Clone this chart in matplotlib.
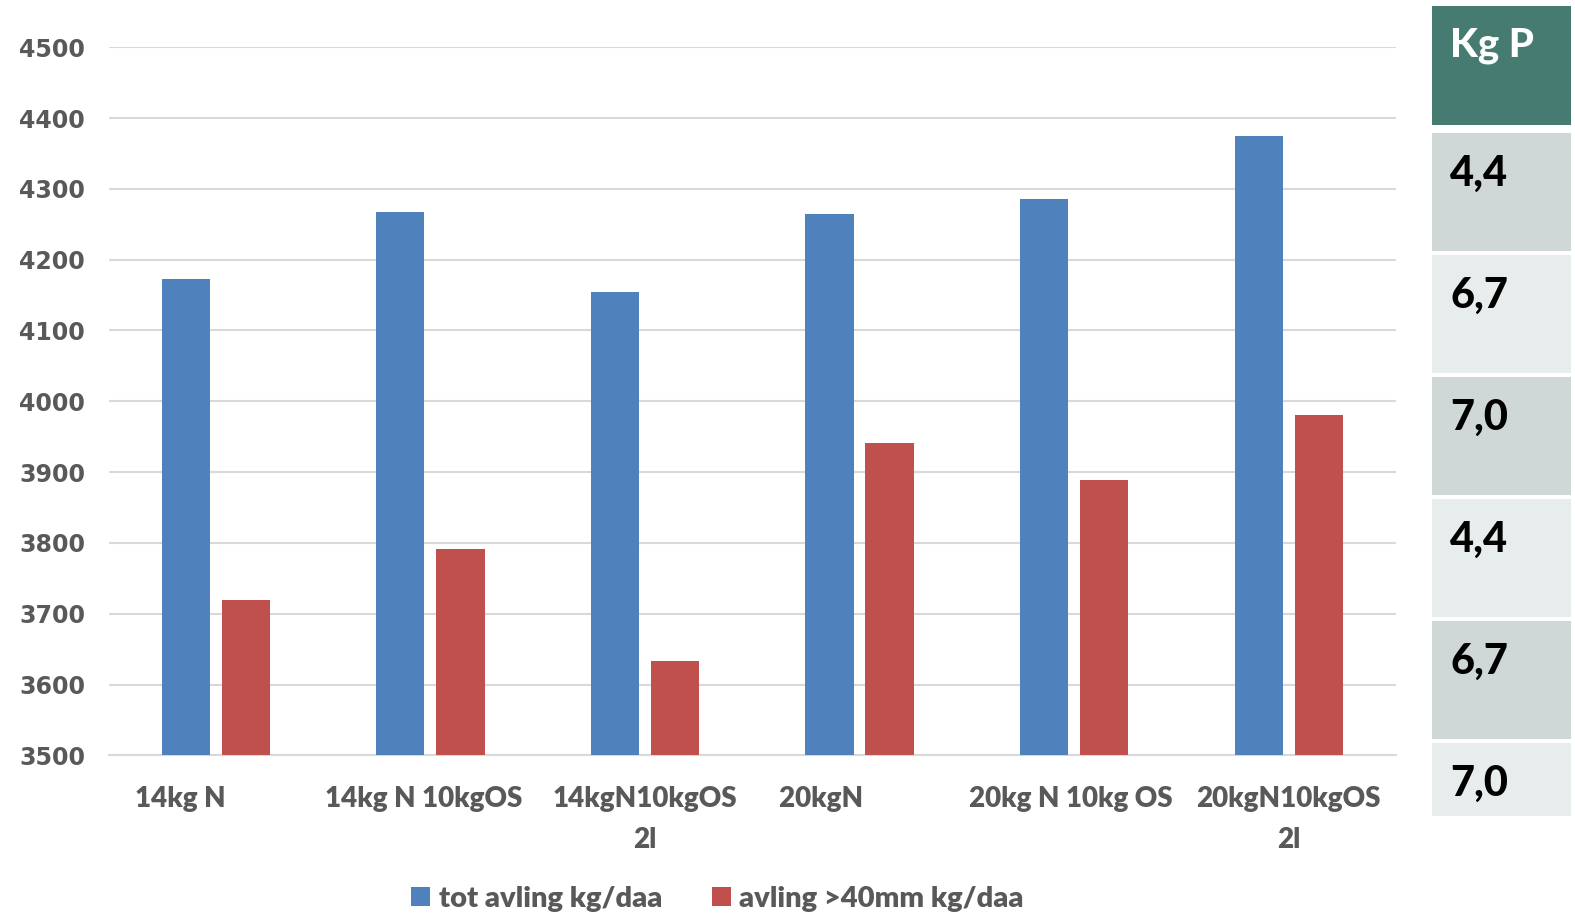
import matplotlib.pyplot as plt
import matplotlib as mpl
import numpy as np
from matplotlib.patches import Rectangle

mpl.rcParams.update({
    'font.family': ['Lato', 'DejaVu Sans'],
    'font.weight': 'bold',
})

kategorier = ['14kg N           ', '14kg N 10kgOS  ', '14kgN10kgOS\n2l', '20kgN            ',
              '20kg N 10kg OS ', '20kgN10kgOS\n2l']
tot_avling = [4172, 4267, 4155, 4265, 4286, 4374]
avling_40mm = [3720, 3791, 3633, 3941, 3889, 3981]
kg_p = ['4,4', '6,7', '7,0', '4,4', '6,7', '7,0']

blaa = '#4F81BD'
roed = '#C0504D'
tekst_farge = '#595959'

W, H = 1575, 916
fig = plt.figure(figsize=(W / 100, H / 100), dpi=100)

# hovedaksen for stolpene
venstre, hoeyre = 108.5 / W, 1396 / W
topp, bunn = 1 - 47.2 / H, 1 - 755.4 / H
ax = fig.add_axes([venstre, bunn, hoeyre - venstre, topp - bunn])

x = np.arange(len(kategorier))
bredde = 0.225
ax.bar(x - 0.14, tot_avling, bredde, color=blaa, label='tot avling kg/daa', zorder=3)
ax.bar(x + 0.14, avling_40mm, bredde, color=roed, label='avling >40mm kg/daa', zorder=3)

ax.set_xlim(-0.5, len(kategorier) - 0.5)
ax.set_ylim(3500, 4500)
ax.set_yticks(np.arange(3500, 4501, 100))
ax.grid(axis='y', color='#D9D9D9', linewidth=1.5, zorder=0)
for s in ['top', 'right', 'left']:
    ax.spines[s].set_visible(False)
ax.spines['bottom'].set_color('#D9D9D9')
ax.spines['bottom'].set_linewidth(1.5)
ax.tick_params(axis='both', length=0)
ax.tick_params(axis='y', pad=17)
ax.tick_params(axis='x', pad=22)

ax.set_xticks(x)
ax.set_xticklabels(kategorier, fontsize=20, color=tekst_farge, fontweight='heavy',
                   linespacing=1.7, va='top')
ax.set_yticklabels([str(v) for v in ax.get_yticks().astype(int)],
                   family='DejaVu Sans', fontweight='bold', fontsize=17,
                   color=tekst_farge)

leg = ax.legend(loc='upper center', bbox_to_anchor=(0.473, -0.147), ncol=2, frameon=False,
                fontsize=21, labelcolor=tekst_farge, handlelength=0.65, handleheight=0.65,
                handletextpad=0.3, columnspacing=1.7)
for t in leg.get_texts():
    t.set_fontweight('heavy')

# tabellen med Kg P til hoeyre
cx0, cx1 = 1432, 1571
celler = [(6, 125)]
for i in range(len(kg_p)):
    t = 133 + i * 122
    celler.append((t, min(t + 118, 816)))

def boks(t, b, farge):
    fig.patches.append(Rectangle((cx0 / W, 1 - b / H), (cx1 - cx0) / W, (b - t) / H,
                                 transform=fig.transFigure, facecolor=farge,
                                 edgecolor='none', zorder=1))

boks(*celler[0], '#467B71')
fig.text(1450 / W, 1 - 46 / H, 'Kg P', color='white', fontsize=29, fontweight='black',
         ha='left', va='center')
for i, verdi in enumerate(kg_p):
    t, b = celler[i + 1]
    boks(t, b, '#CFD8D7' if i % 2 == 0 else '#E7ECEC')
    fig.text(1450 / W, 1 - (t + 41) / H, verdi, color='black', fontsize=30,
             fontweight='black', ha='left', va='center')

fig.savefig('out.png', dpi=100)
